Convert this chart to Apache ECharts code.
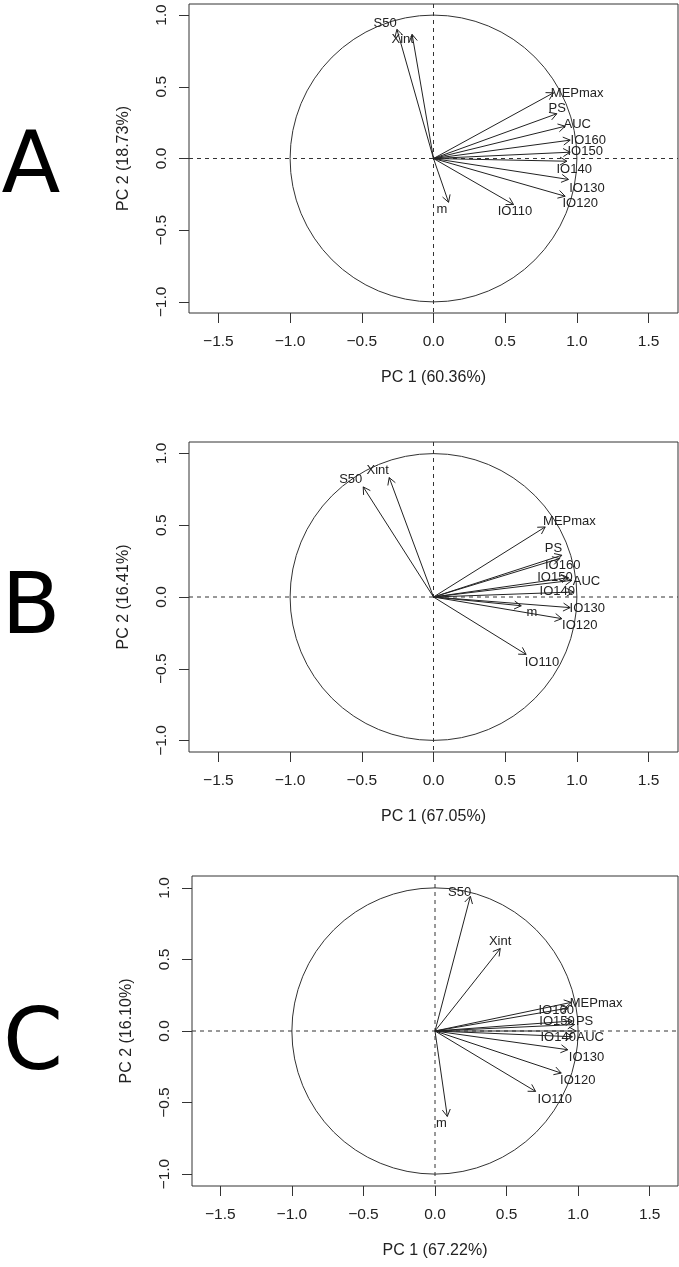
<!DOCTYPE html>
<html>
<head>
<meta charset="utf-8">
<script src="https://cdn.jsdelivr.net/npm/echarts@6/dist/echarts.min.js"></script>
<style>
html,body{margin:0;padding:0;background:#fff;}
#chart{width:679px;height:1267px;}
</style>
</head>
<body>
<div id="chart"></div>
<script>
// ---- data ----
const variables = ['S50','Xint','MEPmax','PS','AUC','IO160','IO150','IO140','IO130','IO120','IO110','m'];
const panelLetters = ['A','B','C'];
const pc1Titles = ['PC 1 (60.36%)','PC 1 (67.05%)','PC 1 (67.22%)'];
const pc2Titles = ['PC 2 (18.73%)','PC 2 (16.41%)','PC 2 (16.10%)'];
const xTicks = [-1.5,-1.0,-0.5,0.0,0.5,1.0,1.5];
const yTicks = [-1.0,-0.5,0.0,0.5,1.0];

// arrow tips (PC1, PC2)
const pc1A = [-0.255,-0.149,0.837,0.860,0.918,0.953,0.953,0.930,0.941,0.918,0.558,0.105];
const pc2A = [0.900,0.865,0.458,0.312,0.225,0.128,0.044,-0.019,-0.146,-0.263,-0.321,-0.305];
const pc1B = [-0.490,-0.309,0.779,0.895,0.965,0.880,0.941,0.976,0.953,0.895,0.646,0.612];
const pc2B = [0.767,0.832,0.488,0.291,0.116,0.268,0.135,0.035,-0.074,-0.151,-0.400,-0.061];
const pc1C = [0.247,0.456,0.952,0.975,0.985,0.930,0.960,0.960,0.928,0.882,0.703,0.086];
const pc2C = [0.941,0.576,0.200,0.045,0.000,0.160,0.070,-0.040,-0.131,-0.294,-0.422,-0.597];

// label anchor coordinates (data units)
const labXA = [-0.337,-0.215,1.002,0.863,1.002,1.079,1.058,0.981,1.070,1.023,0.568,0.059];
const labYA = [0.941,0.830,0.453,0.349,0.237,0.126,0.049,-0.077,-0.207,-0.314,-0.368,-0.356];
const labXB = [-0.577,-0.389,0.948,0.837,1.067,0.901,0.847,0.863,1.072,1.020,0.756,0.686];
const labYB = [0.818,0.884,0.530,0.338,0.112,0.221,0.135,0.042,-0.081,-0.197,-0.457,-0.105];
const labXC = [0.172,0.455,1.126,1.045,1.085,0.847,0.853,0.861,1.059,0.998,0.837,0.045];
const labYC = [0.969,0.627,0.196,0.067,-0.042,0.144,0.067,-0.042,-0.182,-0.348,-0.476,-0.643];

const tipsX = [pc1A, pc1B, pc1C];
const tipsY = [pc2A, pc2B, pc2C];
const labsX = [labXA, labXB, labXC];
const labsY = [labYA, labYB, labYC];

// ---- layout ----
const INK = '#222';
const grids = [
  {left:189, top:4,   width:489, height:309},
  {left:189, top:442, width:489, height:310},
  {left:192, top:876, width:486, height:310}
];
const xRanges = [[-1.705,1.705],[-1.705,1.705],[-1.698,1.698]];
const yRanges = [[-1.077,1.077],[-1.08,1.08],[-1.083,1.083]];
const letterPos = [[31,170],[31,611],[33,1047]];

const fmt = v => (v < 0 ? '\u2212' : '') + Math.abs(v).toFixed(1);

const option = {
  animation: false,
  backgroundColor: '#fff',
  grid: grids.map(g => Object.assign({show:true, borderColor:'#333', borderWidth:1, backgroundColor:'transparent', outerBoundsMode:'none', containLabel:false}, g)),
  xAxis: [0,1,2].map(i => ({
    type:'value', gridIndex:i, min:xRanges[i][0], max:xRanges[i][1], position:'bottom',
    axisLine:{show:false, onZero:false}, splitLine:{show:false},
    axisTick:{show:true, inside:false, length:10, customValues:xTicks, lineStyle:{color:'#333', width:1}},
    axisLabel:{show:true, customValues:xTicks, formatter:fmt, margin:21, color:INK, fontSize:15.5, fontFamily:'Liberation Sans'},
    name:pc1Titles[i], nameLocation:'middle', nameGap:57,
    nameTextStyle:{color:INK, fontSize:16, fontFamily:'Liberation Sans'}
  })),
  yAxis: [0,1,2].map(i => ({
    type:'value', gridIndex:i, min:yRanges[i][0], max:yRanges[i][1], position:'left',
    axisLine:{show:false, onZero:false}, splitLine:{show:false},
    axisTick:{show:true, inside:false, length:10, customValues:yTicks, lineStyle:{color:'#333', width:1}},
    axisLabel:{show:true, customValues:yTicks, formatter:fmt, rotate:90, margin:19, color:INK, fontSize:15.5, fontFamily:'Liberation Sans'},
    name:pc2Titles[i], nameLocation:'middle', nameGap:57,
    nameTextStyle:{color:INK, fontSize:16, fontFamily:'Liberation Sans'}
  })),
  graphic: panelLetters.map((t, i) => ({
    type:'text', x:letterPos[i][0], y:letterPos[i][1],
    style:{text:t, fill:'#000', font:'86px "DejaVu Sans"', align:'center', verticalAlign:'middle'}
  })),
  series: []
};

for (let i = 0; i < 3; i++) {
  // circle + reference dashed lines
  option.series.push({
    type:'custom', xAxisIndex:i, yAxisIndex:i, silent:true, clip:false,
    data:[[0,0]],
    renderItem: function (params, api) {
      const c = api.coord([0,0]);
      const r = api.size([1,1])[0];
      const cs = params.coordSys;
      return {type:'group', children:[
        {type:'circle', shape:{cx:c[0], cy:c[1], r:r}, style:{fill:'none', stroke:'#333', lineWidth:1}},
        {type:'line', shape:{x1:cs.x, y1:c[1], x2:cs.x+cs.width, y2:c[1]}, style:{stroke:'#333', lineWidth:1, lineDash:[4,4]}},
        {type:'line', shape:{x1:c[0], y1:cs.y, x2:c[0], y2:cs.y+cs.height}, style:{stroke:'#333', lineWidth:1, lineDash:[4,4]}}
      ]};
    }
  });
  // arrows + labels
  const data = variables.map((v, k) => [tipsX[i][k], tipsY[i][k], labsX[i][k], labsY[i][k]]);
  option.series.push({
    type:'custom', xAxisIndex:i, yAxisIndex:i, silent:true, clip:false,
    data:data,
    encode:{x:0, y:1},
    renderItem: function (params, api) {
      const o = api.coord([0,0]);
      const t = api.coord([api.value(0), api.value(1)]);
      const l = api.coord([api.value(2), api.value(3)]);
      const ang = Math.atan2(t[1]-o[1], t[0]-o[0]);
      const len = 8, a = Math.PI/6;
      const p1 = [t[0]-len*Math.cos(ang-a), t[1]-len*Math.sin(ang-a)];
      const p2 = [t[0]-len*Math.cos(ang+a), t[1]-len*Math.sin(ang+a)];
      return {type:'group', children:[
        {type:'line', shape:{x1:o[0], y1:o[1], x2:t[0], y2:t[1]}, style:{stroke:'#222', lineWidth:1}},
        {type:'polyline', shape:{points:[p1, t, p2]}, style:{stroke:'#222', lineWidth:1, fill:'none'}},
        {type:'text', x:l[0], y:l[1], style:{text:variables[params.dataIndex], fill:INK, fontSize:13, fontFamily:'Liberation Sans', align:'center', verticalAlign:'middle'}}
      ]};
    }
  });
}

const chart = echarts.init(document.getElementById('chart'), null, {renderer:'canvas'});
chart.setOption(option);
</script>
</body>
</html>
